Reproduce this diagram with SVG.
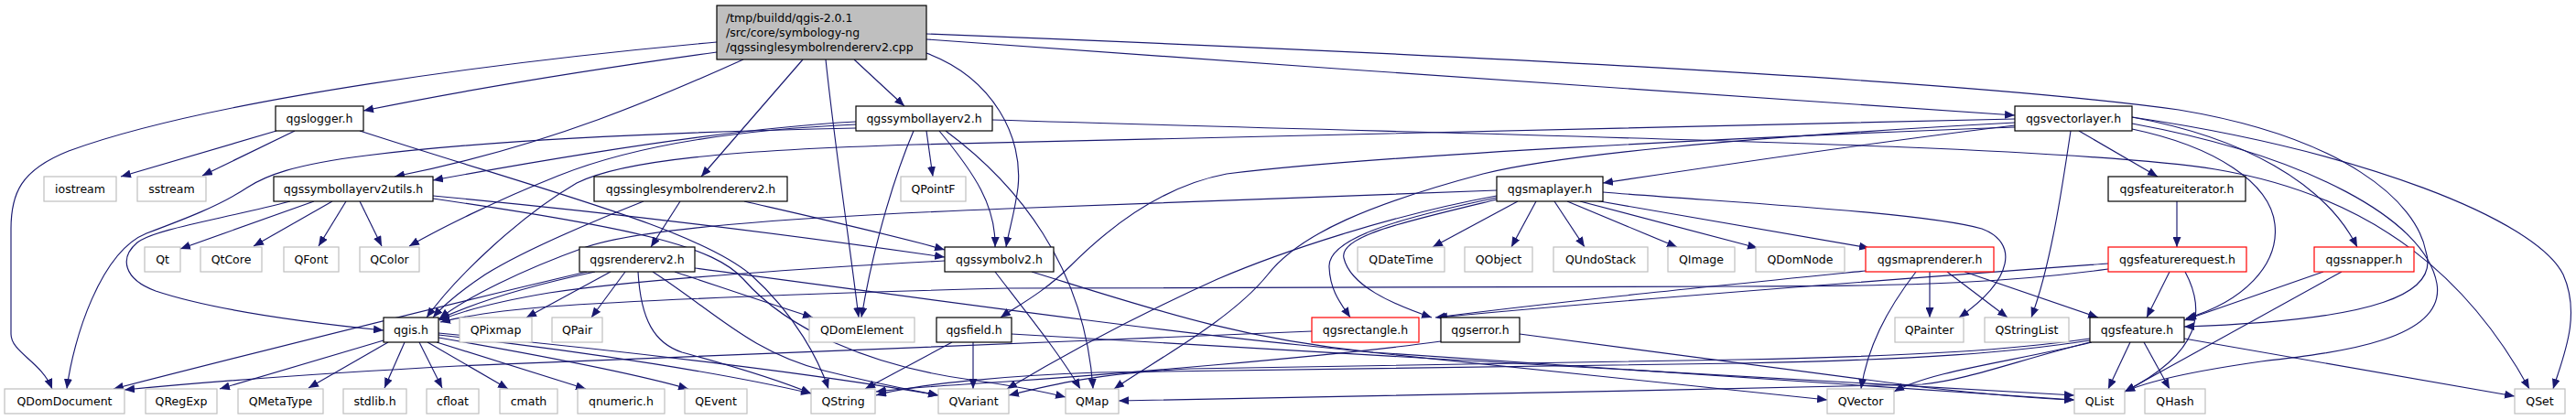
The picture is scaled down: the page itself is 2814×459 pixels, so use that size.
<svg xmlns="http://www.w3.org/2000/svg" width="2814" height="459" viewBox="0 0 2814 459">
<defs>
<marker id="a" viewBox="0 0 11 9" refX="11" refY="4.5" markerWidth="11" markerHeight="9" markerUnits="userSpaceOnUse" orient="auto"><path d="M0,0 L11,4.5 L0,9 z" fill="#191970"/></marker>
<style>
.e{fill:none;stroke:#191970;stroke-width:1.15;marker-end:url(#a)}
.nb rect{fill:#fff;stroke:#000;stroke-width:1.2}
.ng rect{fill:#fff;stroke:#bfbfbf;stroke-width:1.2}
.nr rect{fill:#fff;stroke:#f00;stroke-width:1.2}
.nm rect{fill:#bfbfbf;stroke:#000;stroke-width:1.2}
text{font-family:'DejaVu Sans','Liberation Sans',sans-serif;font-size:12.5px;fill:#000;text-anchor:middle}
.nm text{text-anchor:start}
</style>
</defs>
<rect width="2814" height="459" fill="#fff"/>
<g id="edges">
<path class="e" d="M783,46 C560,66 230,108 75,165 C22,186 12,212 12,250 L12,365 C12,385 45,395 57,425"/>
<path class="e" d="M783,57 C660,74 520,96 397,121"/>
<path class="e" d="M812,65 C730,102 600,160 431,193"/>
<path class="e" d="M877,65 L766,193"/>
<path class="e" d="M902,65 C912,160 928,265 938,347"/>
<path class="e" d="M933,65 L988,116"/>
<path class="e" d="M1012,58 C1085,85 1118,150 1112,205 C1108,235 1102,252 1099,270"/>
<path class="e" d="M1012,43 C1400,70 1900,108 2201,126"/>
<path class="e" d="M1012,37 C1600,60 2150,88 2380,120 C2560,150 2640,220 2650,275 C2665,320 2600,350 2386,357"/>
<path class="e" d="M302,143 L132,193"/>
<path class="e" d="M322,143 L221,192"/>
<path class="e" d="M393,143 C600,210 760,250 820,300 C870,345 895,395 905,425"/>
<path class="e" d="M935,140 C700,145 520,155 400,170 C320,180 290,192 270,205 C240,225 200,240 160,255 C110,275 80,370 73,425"/>
<path class="e" d="M935,133 C800,140 620,170 473,197"/>
<path class="e" d="M935,136 C800,142 690,160 610,192 C540,220 480,250 447,269"/>
<path class="e" d="M1012,143 L1019,193"/>
<path class="e" d="M998,143 C980,185 955,262 941,347"/>
<path class="e" d="M1026,143 C1065,190 1088,225 1087,270"/>
<path class="e" d="M1033,143 C1110,200 1185,290 1194,425"/>
<path class="e" d="M1084,131 C1700,150 2250,158 2420,185 C2600,215 2700,310 2763,425"/>
<path class="e" d="M343,220 L197,272"/>
<path class="e" d="M363,220 L277,269"/>
<path class="e" d="M378,220 L348,269"/>
<path class="e" d="M393,220 L417,269"/>
<path class="e" d="M317,220 C240,240 170,250 150,265 C130,282 135,305 170,318 C230,338 330,352 419,361"/>
<path class="e" d="M473,214 C700,235 900,262 1032,281"/>
<path class="e" d="M473,217 C700,250 780,270 812,305 C860,360 950,400 1060,415 C1110,422 1140,428 1164,434"/>
<path class="e" d="M743,220 L711,270"/>
<path class="e" d="M813,220 C900,240 980,258 1032,273"/>
<path class="e" d="M703,220 C640,245 570,275 530,300 C500,320 485,333 473,347"/>
<path class="e" d="M650,297 C580,312 520,330 479,349"/>
<path class="e" d="M667,297 L575,347"/>
<path class="e" d="M683,297 L646,347"/>
<path class="e" d="M641,297 C500,330 300,380 124,425"/>
<path class="e" d="M737,297 C800,318 850,335 888,347"/>
<path class="e" d="M697,297 C700,350 715,375 745,385 C800,400 850,415 886,430"/>
<path class="e" d="M713,297 C780,340 820,385 900,405 C960,420 1000,427 1025,432"/>
<path class="e" d="M759,293 C1000,325 1250,360 1420,377 C1700,405 1900,428 1996,437"/>
<path class="e" d="M1032,285 C900,292 700,305 600,320 C540,330 505,340 480,350"/>
<path class="e" d="M1087,297 C1120,340 1160,390 1180,425"/>
<path class="e" d="M1127,297 C1250,335 1350,370 1500,385 C1900,410 2150,430 2266,437"/>
<path class="e" d="M1040,374 L945,425"/>
<path class="e" d="M1063,374 L1063,425"/>
<path class="e" d="M1105,365 C1400,380 2000,420 2266,432"/>
<path class="e" d="M1658,220 L1565,270"/>
<path class="e" d="M1678,220 L1651,270"/>
<path class="e" d="M1698,220 L1731,270"/>
<path class="e" d="M1712,220 L1832,270"/>
<path class="e" d="M1726,220 L1920,271"/>
<path class="e" d="M1742,219 L2042,271"/>
<path class="e" d="M1751,210 C1900,222 2100,232 2165,250 C2205,265 2200,305 2140,347"/>
<path class="e" d="M1635,208 L1100,228 C850,238 700,250 640,270 C570,295 510,325 480,348"/>
<path class="e" d="M1635,216 C1520,240 1450,262 1452,292 C1453,318 1465,332 1475,347"/>
<path class="e" d="M1635,218 C1535,242 1462,258 1468,282 C1475,312 1520,332 1564,347"/>
<path class="e" d="M1635,214 C1520,235 1400,275 1330,305 C1230,350 1150,395 1100,425"/>
<path class="e" d="M2201,137 C2050,155 1850,185 1751,200"/>
<path class="e" d="M2201,130 C1700,138 1300,148 1000,158 C800,164 680,175 630,200 C570,235 500,300 466,347"/>
<path class="e" d="M2271,143 L2357,193"/>
<path class="e" d="M2262,143 C2252,210 2240,290 2219,347"/>
<path class="e" d="M2201,139 C1900,150 1500,170 1340,190 C1260,205 1200,260 1170,290 C1140,320 1110,335 1093,347"/>
<path class="e" d="M2201,134 C1900,150 1700,170 1620,190 C1500,222 1420,255 1385,300 C1345,350 1260,395 1217,425"/>
<path class="e" d="M2329,128 C2450,150 2540,200 2575,270"/>
<path class="e" d="M2329,141 C2420,160 2480,200 2485,245 C2490,290 2450,330 2388,348"/>
<path class="e" d="M2329,135 C2520,170 2650,240 2662,310 C2672,370 2560,385 2470,395 C2400,405 2350,415 2321,428"/>
<path class="e" d="M2329,128 C2580,165 2770,240 2800,300 C2820,345 2800,390 2789,425"/>
<path class="e" d="M2378,220 L2378,270"/>
<path class="e" d="M2370,297 L2345,347"/>
<path class="e" d="M2387,297 C2410,340 2405,385 2321,428"/>
<path class="e" d="M2303,288 C2100,303 1800,325 1570,347"/>
<path class="e" d="M2303,294 C2200,308 2100,313 1900,313 L1100,315 C900,320 700,328 600,335 C540,340 505,346 481,352"/>
<path class="e" d="M2108,297 L2108,347"/>
<path class="e" d="M2127,297 L2193,347"/>
<path class="e" d="M2146,297 L2292,347"/>
<path class="e" d="M2093,297 C2060,340 2040,380 2033,425"/>
<path class="e" d="M2038,296 C1850,315 1700,330 1568,347"/>
<path class="e" d="M2538,297 L2386,350"/>
<path class="e" d="M2558,297 L2321,428"/>
<path class="e" d="M2327,374 L2303,425"/>
<path class="e" d="M2342,374 L2370,425"/>
<path class="e" d="M2386,370 L2747,433"/>
<path class="e" d="M2283,372 C2200,385 2100,393 1900,397 L1200,407 C1100,410 1000,420 957,432"/>
<path class="e" d="M2283,370 C2200,382 2100,389 1900,393 L1300,403 C1200,408 1150,420 1102,432"/>
<path class="e" d="M2283,374 C2200,395 2150,415 2100,420 C1800,428 1400,433 1222,438"/>
<path class="e" d="M2285,374 C2200,395 2110,405 2069,428"/>
<path class="e" d="M419,372 L240,425"/>
<path class="e" d="M424,374 L337,424"/>
<path class="e" d="M442,374 L420,424"/>
<path class="e" d="M458,374 L483,424"/>
<path class="e" d="M467,374 L555,425"/>
<path class="e" d="M477,374 L640,425"/>
<path class="e" d="M479,369 C600,390 700,410 752,425"/>
<path class="e" d="M479,366 C650,385 800,410 886,430"/>
<path class="e" d="M479,364 C700,385 900,410 1025,432"/>
<path class="e" d="M1574,373 C1450,390 1200,410 1100,417 C1020,422 980,425 957,428"/>
<path class="e" d="M1660,365 L2100,423 C2180,432 2230,436 2266,437"/>
<path class="e" d="M1433,362 C1100,376 700,392 500,400 C350,408 250,415 136,426"/>
</g>
<g id="n-main" class="nm"><rect x="783" y="6" width="229" height="59"/><text x="793" y="24">/tmp/buildd/qgis-2.0.1</text><text x="793" y="40">/src/core/symbology-ng</text><text x="793" y="56">/qgssinglesymbolrendererv2.cpp</text></g>
<g id="n-qgslogger" class="nb"><rect x="301" y="116" width="96" height="27"/><text x="349" y="134">qgslogger.h</text></g>
<g id="n-qgssymbollayerv2" class="nb"><rect x="935" y="116" width="149" height="27"/><text x="1009.5" y="134">qgssymbollayerv2.h</text></g>
<g id="n-qgsvectorlayer" class="nb"><rect x="2201" y="116" width="128" height="27"/><text x="2265" y="134">qgsvectorlayer.h</text></g>
<g id="n-iostream" class="ng"><rect x="48" y="193" width="79" height="27"/><text x="87.5" y="211">iostream</text></g>
<g id="n-sstream" class="ng"><rect x="150" y="193" width="75" height="27"/><text x="187.5" y="211">sstream</text></g>
<g id="n-qgssymbollayerv2utils" class="nb"><rect x="299" y="193" width="174" height="27"/><text x="386" y="211">qgssymbollayerv2utils.h</text></g>
<g id="n-qgssinglesymbolrendererv2" class="nb"><rect x="649" y="193" width="211" height="27"/><text x="754.5" y="211">qgssinglesymbolrendererv2.h</text></g>
<g id="n-QPointF" class="ng"><rect x="984" y="193" width="71" height="27"/><text x="1019.5" y="211">QPointF</text></g>
<g id="n-qgsmaplayer" class="nb"><rect x="1635" y="193" width="116" height="27"/><text x="1693" y="211">qgsmaplayer.h</text></g>
<g id="n-qgsfeatureiterator" class="nb"><rect x="2303" y="193" width="150" height="27"/><text x="2378" y="211">qgsfeatureiterator.h</text></g>
<g id="n-Qt" class="ng"><rect x="158" y="270" width="39" height="27"/><text x="177.5" y="288">Qt</text></g>
<g id="n-QtCore" class="ng"><rect x="219" y="270" width="67" height="27"/><text x="252.5" y="288">QtCore</text></g>
<g id="n-QFont" class="ng"><rect x="310" y="270" width="60" height="27"/><text x="340" y="288">QFont</text></g>
<g id="n-QColor" class="ng"><rect x="393" y="270" width="65" height="27"/><text x="425.5" y="288">QColor</text></g>
<g id="n-qgsrendererv2" class="nb"><rect x="633" y="270" width="126" height="27"/><text x="696" y="288">qgsrendererv2.h</text></g>
<g id="n-qgssymbolv2" class="nb"><rect x="1032" y="270" width="119" height="27"/><text x="1091.5" y="288">qgssymbolv2.h</text></g>
<g id="n-QDateTime" class="ng"><rect x="1483" y="270" width="95" height="27"/><text x="1530.5" y="288">QDateTime</text></g>
<g id="n-QObject" class="ng"><rect x="1600" y="270" width="74" height="27"/><text x="1637" y="288">QObject</text></g>
<g id="n-QUndoStack" class="ng"><rect x="1697" y="270" width="103" height="27"/><text x="1748.5" y="288">QUndoStack</text></g>
<g id="n-QImage" class="ng"><rect x="1822" y="270" width="73" height="27"/><text x="1858.5" y="288">QImage</text></g>
<g id="n-QDomNode" class="ng"><rect x="1918" y="270" width="97" height="27"/><text x="1966.5" y="288">QDomNode</text></g>
<g id="n-qgsmaprenderer" class="nr"><rect x="2038" y="270" width="140" height="27"/><text x="2108" y="288">qgsmaprenderer.h</text></g>
<g id="n-qgsfeaturerequest" class="nr"><rect x="2303" y="270" width="151" height="27"/><text x="2378.5" y="288">qgsfeaturerequest.h</text></g>
<g id="n-qgssnapper" class="nr"><rect x="2528" y="270" width="109" height="27"/><text x="2582.5" y="288">qgssnapper.h</text></g>
<g id="n-qgis" class="nb"><rect x="419" y="347" width="60" height="27"/><text x="449" y="365">qgis.h</text></g>
<g id="n-QPixmap" class="ng"><rect x="502" y="347" width="79" height="27"/><text x="541.5" y="365">QPixmap</text></g>
<g id="n-QPair" class="ng"><rect x="603" y="347" width="55" height="27"/><text x="630.5" y="365">QPair</text></g>
<g id="n-QDomElement" class="ng"><rect x="884" y="347" width="115" height="27"/><text x="941.5" y="365">QDomElement</text></g>
<g id="n-qgsfield" class="nb"><rect x="1023" y="347" width="82" height="27"/><text x="1064" y="365">qgsfield.h</text></g>
<g id="n-qgsrectangle" class="nr"><rect x="1433" y="347" width="117" height="27"/><text x="1491.5" y="365">qgsrectangle.h</text></g>
<g id="n-qgserror" class="nb"><rect x="1574" y="347" width="86" height="27"/><text x="1617" y="365">qgserror.h</text></g>
<g id="n-QPainter" class="ng"><rect x="2070" y="347" width="75" height="27"/><text x="2107.5" y="365">QPainter</text></g>
<g id="n-QStringList" class="ng"><rect x="2168" y="347" width="92" height="27"/><text x="2214" y="365">QStringList</text></g>
<g id="n-qgsfeature" class="nb"><rect x="2283" y="347" width="103" height="27"/><text x="2334.5" y="365">qgsfeature.h</text></g>
<g id="n-QDomDocument" class="ng"><rect x="5" y="425" width="131" height="27"/><text x="70.5" y="443">QDomDocument</text></g>
<g id="n-QRegExp" class="ng"><rect x="159" y="425" width="78" height="27"/><text x="198" y="443">QRegExp</text></g>
<g id="n-QMetaType" class="ng"><rect x="260" y="425" width="93" height="27"/><text x="306.5" y="443">QMetaType</text></g>
<g id="n-stdlib" class="ng"><rect x="375" y="425" width="69" height="27"/><text x="409.5" y="443">stdlib.h</text></g>
<g id="n-cfloat" class="ng"><rect x="466" y="425" width="57" height="27"/><text x="494.5" y="443">cfloat</text></g>
<g id="n-cmath" class="ng"><rect x="546" y="425" width="63" height="27"/><text x="577.5" y="443">cmath</text></g>
<g id="n-qnumeric" class="ng"><rect x="631" y="425" width="95" height="27"/><text x="678.5" y="443">qnumeric.h</text></g>
<g id="n-QEvent" class="ng"><rect x="748" y="425" width="68" height="27"/><text x="782" y="443">QEvent</text></g>
<g id="n-QString" class="ng"><rect x="886" y="425" width="70" height="27"/><text x="921" y="443">QString</text></g>
<g id="n-QVariant" class="ng"><rect x="1025" y="425" width="77" height="27"/><text x="1063.5" y="443">QVariant</text></g>
<g id="n-QMap" class="ng"><rect x="1164" y="425" width="58" height="27"/><text x="1193" y="443">QMap</text></g>
<g id="n-QVector" class="ng"><rect x="1996" y="425" width="73" height="27"/><text x="2032.5" y="443">QVector</text></g>
<g id="n-QList" class="ng"><rect x="2266" y="425" width="55" height="27"/><text x="2293.5" y="443">QList</text></g>
<g id="n-QHash" class="ng"><rect x="2343" y="425" width="66" height="27"/><text x="2376" y="443">QHash</text></g>
<g id="n-QSet" class="ng"><rect x="2747" y="425" width="55" height="27"/><text x="2774.5" y="443">QSet</text></g>
</svg>
